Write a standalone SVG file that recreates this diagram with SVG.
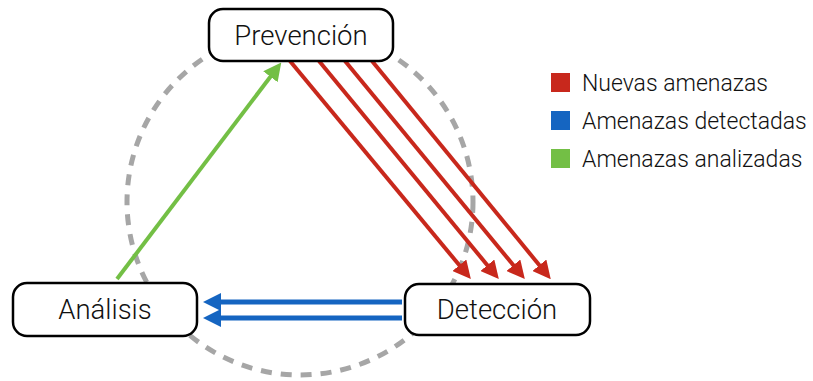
<svg xmlns="http://www.w3.org/2000/svg" width="813" height="381" viewBox="0 0 813 381">
  <style>
    .box { fill: #ffffff; stroke: #000000; stroke-width: 2.5; }
    .label { font-family: Roboto, "Liberation Sans", Arial, sans-serif; font-weight: 300; font-size: 27.5px; fill: #111111; text-anchor: middle; }
    .legend { font-family: Roboto, "Liberation Sans", Arial, sans-serif; font-weight: 300; font-size: 23px; fill: #111111; }
    .cycle { fill: none; stroke: #a6a6a6; stroke-width: 5; stroke-dasharray: 11 9; }
    .red { stroke: #c8281c; stroke-width: 4; fill: none; marker-end: url(#headRed); }
    .blue { stroke: #1565c1; stroke-width: 5; fill: none; marker-end: url(#headBlue); }
    .green { stroke: #73bf45; stroke-width: 4; fill: none; marker-end: url(#headGreen); }
  </style>
  <defs>
    <marker id="headRed" viewBox="0 -9 18 18" refX="1" refY="0" markerWidth="18" markerHeight="18" markerUnits="userSpaceOnUse" orient="auto">
      <path d="M0,-9 L18,0 L0,9 z" fill="#c8281c"/>
    </marker>
    <marker id="headBlue" viewBox="0 -9 18 18" refX="1" refY="0" markerWidth="18" markerHeight="18" markerUnits="userSpaceOnUse" orient="auto">
      <path d="M0,-9 L18,0 L0,9 z" fill="#1565c1"/>
    </marker>
    <marker id="headGreen" viewBox="0 -9 18 18" refX="1" refY="0" markerWidth="18" markerHeight="18" markerUnits="userSpaceOnUse" orient="auto">
      <path d="M0,-9 L18,0 L0,9 z" fill="#73bf45"/>
    </marker>
  </defs>

  <!-- dashed cycle behind everything -->
  <circle class="cycle" cx="300" cy="202" r="173"/>

  <g id="connectors">
    <line class="red" x1="290" y1="61" x2="460" y2="266"/>
    <line class="red" x1="319" y1="61" x2="488" y2="266"/>
    <line class="red" x1="345" y1="61" x2="514" y2="266"/>
    <line class="red" x1="372" y1="61" x2="540" y2="266"/>
    <line class="blue" x1="402" y1="302" x2="220" y2="302"/>
    <line class="blue" x1="402" y1="318" x2="220" y2="318"/>
    <line class="green" x1="117" y1="279" x2="271" y2="76"/>
  </g>

  <g id="prevencion">
    <rect class="box" x="209" y="9" width="184" height="52" rx="14"/>
    <text class="label" x="301" y="45">Prevención</text>
  </g>
  <g id="analisis">
    <rect class="box" x="13" y="283" width="184" height="53" rx="14"/>
    <text class="label" x="105" y="319">Análisis</text>
  </g>
  <g id="deteccion">
    <rect class="box" x="405" y="284" width="185" height="51" rx="14"/>
    <text class="label" x="497" y="319">Detección</text>
  </g>

  <g id="legend">
    <rect x="551" y="73" width="19" height="19" fill="#c8281c"/>
    <text class="legend" x="582" y="91">Nuevas amenazas</text>
    <rect x="551" y="111" width="19" height="19" fill="#1565c1"/>
    <text class="legend" x="582" y="129">Amenazas detectadas</text>
    <rect x="551" y="149" width="19" height="19" fill="#73bf45"/>
    <text class="legend" x="582" y="167">Amenazas analizadas</text>
  </g>
</svg>
